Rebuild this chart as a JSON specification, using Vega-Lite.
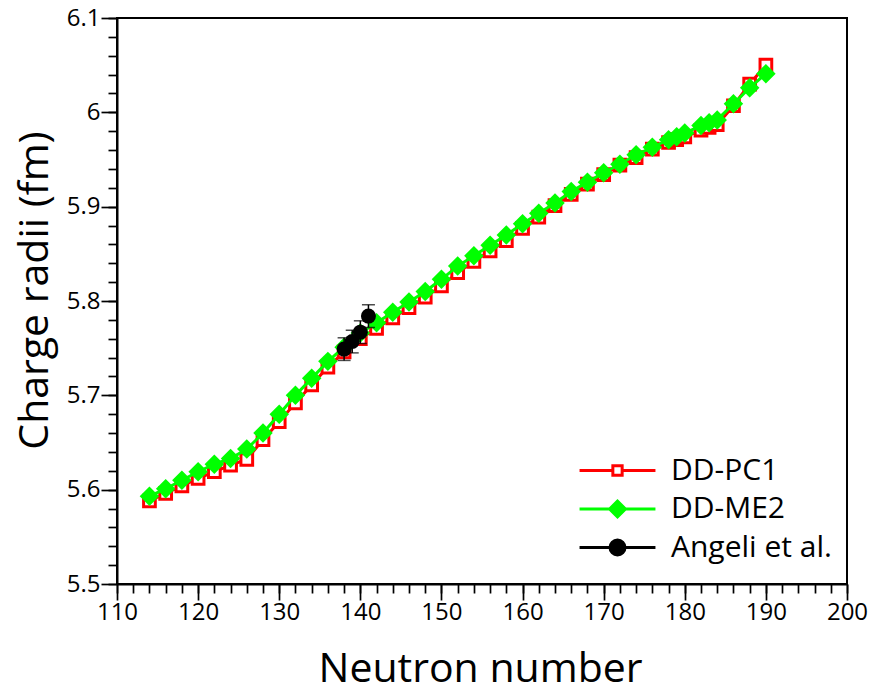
{
  "$schema": "https://vega.github.io/schema/vega-lite/v6.json",
  "width": 730,
  "height": 566,
  "autosize": "none",
  "padding": {"left": 117, "top": 18, "right": 27, "bottom": 109},
  "background": "white",
  "config": {
    "font": "Open Sans",
    "view": {"stroke": "black", "strokeWidth": 2},
    "axis": {
      "domainColor": "black", "domainWidth": 2, "tickColor": "black", "tickWidth": 1.7,
      "labelColor": "black", "titleColor": "black", "grid": false, "labelFont": "Open Sans", "titleFont": "Open Sans",
      "labelFontSize": 24, "titleFontSize": 41, "titleFontWeight": "normal"
    },
    "legend": {
      "orient": "none", "legendX": 484, "legendY": 436, "title": null, "padding": 0,
      "symbolSize": 900, "labelFontSize": 30, "labelColor": "black", "labelOffset": 37, "rowPadding": 6.5,
      "labelFont": "Open Sans", "labelLimit": 0, "symbolOpacity": 1
    }
  },
  "datasets": {
    "theory": [
      {"N": 114, "r": 5.588, "series": "DD-PC1"}, {"N": 116, "r": 5.596, "series": "DD-PC1"},
      {"N": 118, "r": 5.604, "series": "DD-PC1"}, {"N": 120, "r": 5.612, "series": "DD-PC1"},
      {"N": 122, "r": 5.619, "series": "DD-PC1"}, {"N": 124, "r": 5.626, "series": "DD-PC1"},
      {"N": 126, "r": 5.632, "series": "DD-PC1"}, {"N": 128, "r": 5.653, "series": "DD-PC1"},
      {"N": 130, "r": 5.672, "series": "DD-PC1"}, {"N": 132, "r": 5.692, "series": "DD-PC1"},
      {"N": 134, "r": 5.711, "series": "DD-PC1"}, {"N": 136, "r": 5.730, "series": "DD-PC1"},
      {"N": 138, "r": 5.746, "series": "DD-PC1"}, {"N": 140, "r": 5.760, "series": "DD-PC1"},
      {"N": 142, "r": 5.771, "series": "DD-PC1"}, {"N": 144, "r": 5.782, "series": "DD-PC1"},
      {"N": 146, "r": 5.793, "series": "DD-PC1"}, {"N": 148, "r": 5.804, "series": "DD-PC1"},
      {"N": 150, "r": 5.816, "series": "DD-PC1"}, {"N": 152, "r": 5.830, "series": "DD-PC1"},
      {"N": 154, "r": 5.842, "series": "DD-PC1"}, {"N": 156, "r": 5.853, "series": "DD-PC1"},
      {"N": 158, "r": 5.864, "series": "DD-PC1"}, {"N": 160, "r": 5.877, "series": "DD-PC1"},
      {"N": 162, "r": 5.889, "series": "DD-PC1"}, {"N": 164, "r": 5.901, "series": "DD-PC1"},
      {"N": 166, "r": 5.913, "series": "DD-PC1"}, {"N": 168, "r": 5.924, "series": "DD-PC1"},
      {"N": 170, "r": 5.934, "series": "DD-PC1"}, {"N": 172, "r": 5.944, "series": "DD-PC1"},
      {"N": 174, "r": 5.952, "series": "DD-PC1"}, {"N": 176, "r": 5.961, "series": "DD-PC1"},
      {"N": 178, "r": 5.968, "series": "DD-PC1"}, {"N": 179, "r": 5.971, "series": "DD-PC1"},
      {"N": 180, "r": 5.974, "series": "DD-PC1"}, {"N": 182, "r": 5.981, "series": "DD-PC1"},
      {"N": 183, "r": 5.984, "series": "DD-PC1"}, {"N": 184, "r": 5.987, "series": "DD-PC1"},
      {"N": 186, "r": 6.007, "series": "DD-PC1"}, {"N": 188, "r": 6.030, "series": "DD-PC1"},
      {"N": 190, "r": 6.050, "series": "DD-PC1"},
      {"N": 114, "r": 5.593, "series": "DD-ME2"}, {"N": 116, "r": 5.601, "series": "DD-ME2"},
      {"N": 118, "r": 5.610, "series": "DD-ME2"}, {"N": 120, "r": 5.619, "series": "DD-ME2"},
      {"N": 122, "r": 5.627, "series": "DD-ME2"}, {"N": 124, "r": 5.633, "series": "DD-ME2"},
      {"N": 126, "r": 5.643, "series": "DD-ME2"}, {"N": 128, "r": 5.660, "series": "DD-ME2"},
      {"N": 130, "r": 5.680, "series": "DD-ME2"}, {"N": 132, "r": 5.700, "series": "DD-ME2"},
      {"N": 134, "r": 5.718, "series": "DD-ME2"}, {"N": 136, "r": 5.736, "series": "DD-ME2"},
      {"N": 138, "r": 5.751, "series": "DD-ME2"}, {"N": 140, "r": 5.766, "series": "DD-ME2"},
      {"N": 142, "r": 5.777, "series": "DD-ME2"}, {"N": 144, "r": 5.788, "series": "DD-ME2"},
      {"N": 146, "r": 5.799, "series": "DD-ME2"}, {"N": 148, "r": 5.810, "series": "DD-ME2"},
      {"N": 150, "r": 5.823, "series": "DD-ME2"}, {"N": 152, "r": 5.837, "series": "DD-ME2"},
      {"N": 154, "r": 5.848, "series": "DD-ME2"}, {"N": 156, "r": 5.859, "series": "DD-ME2"},
      {"N": 158, "r": 5.870, "series": "DD-ME2"}, {"N": 160, "r": 5.882, "series": "DD-ME2"},
      {"N": 162, "r": 5.893, "series": "DD-ME2"}, {"N": 164, "r": 5.904, "series": "DD-ME2"},
      {"N": 166, "r": 5.916, "series": "DD-ME2"}, {"N": 168, "r": 5.926, "series": "DD-ME2"},
      {"N": 170, "r": 5.936, "series": "DD-ME2"}, {"N": 172, "r": 5.945, "series": "DD-ME2"},
      {"N": 174, "r": 5.955, "series": "DD-ME2"}, {"N": 176, "r": 5.963, "series": "DD-ME2"},
      {"N": 178, "r": 5.971, "series": "DD-ME2"}, {"N": 179, "r": 5.974, "series": "DD-ME2"},
      {"N": 180, "r": 5.978, "series": "DD-ME2"}, {"N": 182, "r": 5.986, "series": "DD-ME2"},
      {"N": 183, "r": 5.989, "series": "DD-ME2"}, {"N": 184, "r": 5.992, "series": "DD-ME2"},
      {"N": 186, "r": 6.009, "series": "DD-ME2"}, {"N": 188, "r": 6.026, "series": "DD-ME2"},
      {"N": 190, "r": 6.041, "series": "DD-ME2"}
    ],
    "exp": [
      {"N": 138, "r": 5.749, "lo": 5.737, "hi": 5.761, "series": "Angeli et al."},
      {"N": 139, "r": 5.757, "lo": 5.745, "hi": 5.769, "series": "Angeli et al."},
      {"N": 140, "r": 5.767, "lo": 5.755, "hi": 5.779, "series": "Angeli et al."},
      {"N": 141, "r": 5.784, "lo": 5.772, "hi": 5.796, "series": "Angeli et al."}
    ]
  },
  "resolve": {"axis": {"x": "independent", "y": "independent"}},
  "layer": [
    {
      "data": {"name": "theory"},
      "transform": [{"filter": "datum.series === 'DD-PC1'"}],
      "mark": {"type": "line", "color": "#ff0000", "strokeWidth": 3},
      "encoding": {
        "x": {"field": "N", "type": "quantitative", "scale": {"domain": [110, 200], "nice": false, "zero": false},
          "axis": {"orient": "bottom", "values": [110, 120, 130, 140, 150, 160, 170, 180, 190, 200], "tickSize": 16, "labelPadding": 0, "labelFlush": false, "labelOverlap": false,
            "title": "Neutron number", "titleX": 363, "titleY": 97, "titleBaseline": "alphabetic", "titleAnchor": null}},
        "y": {"field": "r", "type": "quantitative", "scale": {"domain": [5.5, 6.1], "nice": false, "zero": false},
          "axis": {"orient": "left", "values": [5.5, 5.6, 5.7, 5.8, 5.9, 6.0, 6.1], "tickSize": 16, "labelPadding": 1, "labelFlush": false, "labelOverlap": false,
            "labelExpr": "datum.value == 6 ? '6' : format(datum.value, '.1f')",
            "title": "Charge radii (fm)", "titleX": -70, "titleY": 272, "titleAngle": 270, "titleAlign": "center", "titleBaseline": "alphabetic", "titleAnchor": null}}
      }
    },
    {
      "data": {"name": "theory"},
      "transform": [{"filter": "datum.series === 'DD-PC1'"}],
      "mark": {"type": "point", "shape": "square", "size": 137, "filled": true, "fill": "white", "stroke": "#ff0000", "strokeWidth": 3, "opacity": 1},
      "encoding": {
        "x": {"field": "N", "type": "quantitative", "scale": {"domain": [110, 200], "nice": false, "zero": false},
          "axis": {"orient": "bottom", "values": [110,112,114,116,118,120,122,124,126,128,130,132,134,136,138,140,142,144,146,148,150,152,154,156,158,160,162,164,166,168,170,172,174,176,178,180,182,184,186,188,190,192,194,196,198,200],
            "tickSize": 9, "labels": false, "domain": false, "title": null}},
        "y": {"field": "r", "type": "quantitative", "scale": {"domain": [5.5, 6.1], "nice": false, "zero": false},
          "axis": {"orient": "left", "values": [5.5,5.52,5.54,5.56,5.58,5.6,5.62,5.64,5.66,5.68,5.7,5.72,5.74,5.76,5.78,5.8,5.82,5.84,5.86,5.88,5.9,5.92,5.94,5.96,5.98,6.0,6.02,6.04,6.06,6.08,6.1],
            "tickSize": 9, "labels": false, "domain": false, "title": null}}
      }
    },
    {
      "data": {"name": "theory"},
      "transform": [{"filter": "datum.series === 'DD-ME2'"}],
      "mark": {"type": "line", "color": "#00ff00", "strokeWidth": 3},
      "encoding": {
        "x": {"field": "N", "type": "quantitative", "axis": null},
        "y": {"field": "r", "type": "quantitative", "axis": null}
      }
    },
    {
      "data": {"name": "theory"},
      "transform": [{"filter": "datum.series === 'DD-ME2'"}],
      "mark": {"type": "point", "shape": "diamond", "size": 380, "filled": true, "color": "#00ff00", "opacity": 1},
      "encoding": {
        "x": {"field": "N", "type": "quantitative", "axis": null},
        "y": {"field": "r", "type": "quantitative", "axis": null}
      }
    },
    {
      "data": {"name": "exp"},
      "mark": {"type": "errorbar", "color": "black", "ticks": {"size": 13, "thickness": 1.5, "color": "black"}, "rule": {"strokeWidth": 1.5}},
      "encoding": {
        "x": {"field": "N", "type": "quantitative", "axis": null},
        "y": {"field": "lo", "type": "quantitative", "axis": null},
        "y2": {"field": "hi"}
      }
    },
    {
      "data": {"name": "exp"},
      "mark": {"type": "point", "shape": "circle", "size": 225, "filled": true, "color": "black", "opacity": 1},
      "encoding": {
        "x": {"field": "N", "type": "quantitative", "axis": null},
        "y": {"field": "r", "type": "quantitative", "axis": null}
      }
    },
    {
      "data": {"name": "exp"},
      "mark": {"type": "point", "size": 0, "opacity": 0, "filled": true},
      "encoding": {
        "x": {"field": "N", "type": "quantitative", "axis": null},
        "y": {"field": "r", "type": "quantitative", "axis": null},
        "fill": {"field": "series", "type": "nominal",
          "scale": {"domain": ["DD-PC1", "DD-ME2", "Angeli et al."], "range": ["#ffffff", "#00ff00", "#000000"]}},
        "stroke": {"field": "series", "type": "nominal",
          "scale": {"domain": ["DD-PC1", "DD-ME2", "Angeli et al."], "range": ["#ff0000", "#00ff00", "#000000"]}},
        "shape": {"field": "series", "type": "nominal",
          "scale": {"domain": ["DD-PC1", "DD-ME2", "Angeli et al."], "range": [
            "M-2.53,0H-0.31M0.31,0H2.53M-0.31,-0.31H0.31V0.31H-0.31Z",
            "M-2.53,0H2.53M-0.53,0L0,-0.53L0.53,0L0,0.53Z",
            "M-2.53,0H2.53M-0.5,0A0.5,0.5 0 1,1 0.5,0A0.5,0.5 0 1,1 -0.5,0Z"]}},
        "strokeWidth": {"field": "series", "type": "nominal",
          "scale": {"domain": ["DD-PC1", "DD-ME2", "Angeli et al."], "range": [3, 3, 1.5]}}
      }
    }
  ]
}
